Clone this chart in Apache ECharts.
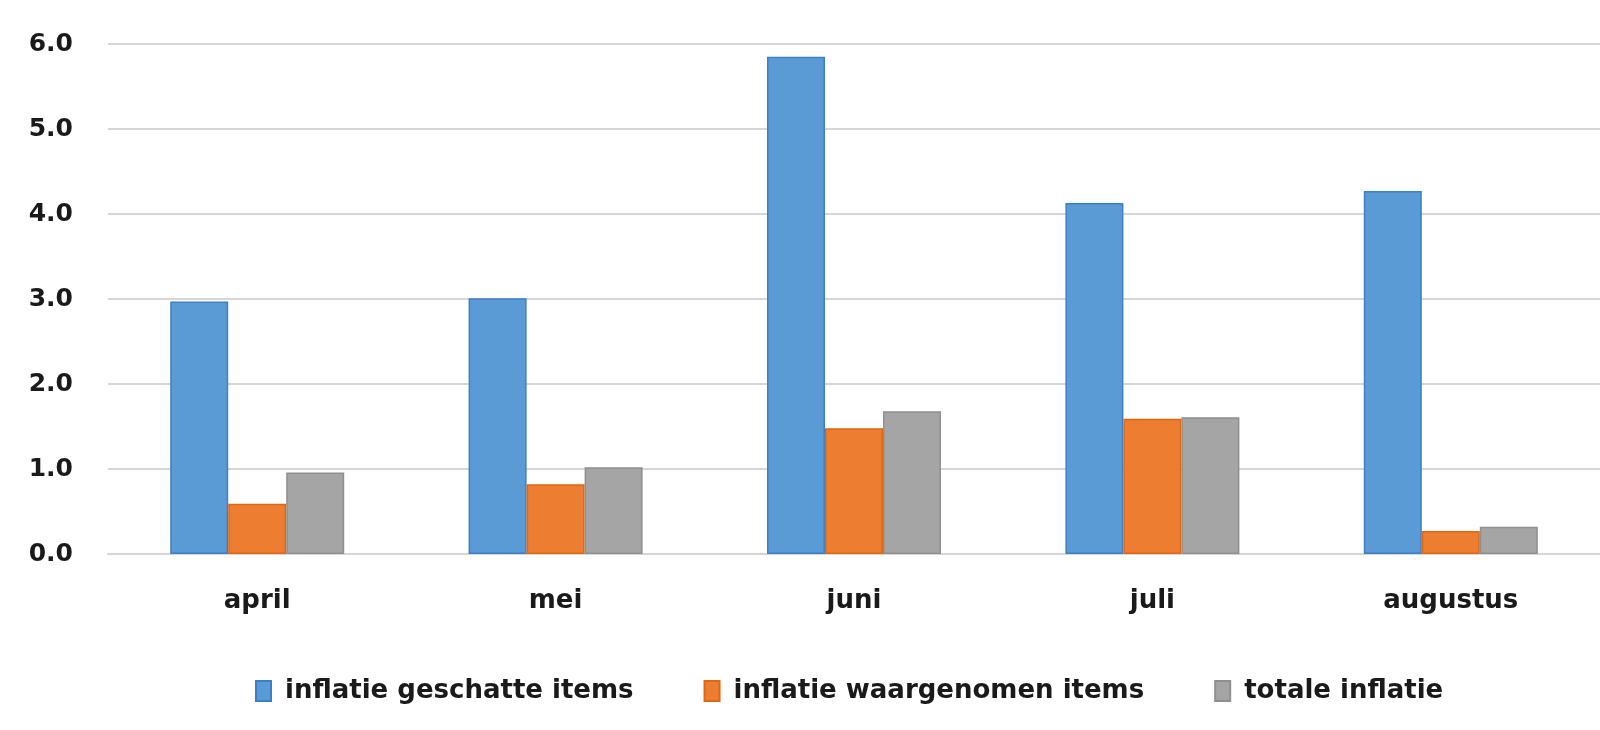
<!DOCTYPE html>
<html>
<head>
<meta charset="utf-8">
<script src="https://cdn.jsdelivr.net/npm/echarts@6/dist/echarts.min.js"></script>
<style>
html,body{margin:0;padding:0;background:#fff;}
#chart{width:1600px;height:730px;}
</style>
</head>
<body>
<div id="chart"></div>
<script>
const categories = ['april', 'mei', 'juni', 'juli', 'augustus'];
const seriesNames = ['inflatie geschatte items', 'inflatie waargenomen items', 'totale inflatie'];
const geschatte = [2.97, 3.01, 5.85, 4.13, 4.27];
const waargenomen = [0.59, 0.82, 1.48, 1.59, 0.27];
const totale = [0.96, 1.02, 1.68, 1.61, 0.32];
const yTicks = ['0.0', '1.0', '2.0', '3.0', '4.0', '5.0', '6.0'];

const colors = ['#5B9BD5', '#ED7D31', '#A5A5A5'];
const borders = ['#3d7fc4', '#e0660f', '#8f8f8f'];
const values = [geschatte, waargenomen, totale];

const chart = echarts.init(document.getElementById('chart'));
chart.setOption({
  animation: false,
  backgroundColor: '#ffffff',
  grid: { left: 108, top: 44, width: 1531, height: 510, containLabel: false },
  legend: {
    left: 250, top: 673,
    itemWidth: 15, itemHeight: 20, itemGap: 70,
    icon: 'rect',
    textStyle: { fontFamily: 'DejaVu Sans', fontWeight: 'bold', fontSize: 26, color: '#1a1a1a', padding: [0, 0, 0, 9] },
    data: seriesNames
  },
  xAxis: {
    type: 'category',
    data: categories,
    axisLine: { show: true, lineStyle: { color: '#d6d6d6', width: 2 } },
    axisTick: { show: false },
    axisLabel: { margin: 34, fontFamily: 'DejaVu Sans', fontWeight: 'bold', fontSize: 26, color: '#1a1a1a' }
  },
  yAxis: {
    type: 'value',
    min: 0, max: 6, interval: 1,
    axisLine: { show: false },
    axisTick: { show: false },
    splitLine: { lineStyle: { color: '#d6d6d6', width: 2 } },
    axisLabel: {
      margin: 35, fontFamily: 'DejaVu Sans', fontWeight: 'bold', fontSize: 25, color: '#1a1a1a',
      formatter: function (v) { return yTicks[Math.round(v)]; }
    }
  },
  series: values.map(function (d, i) {
    return {
      name: seriesNames[i],
      type: 'bar',
      data: d,
      barWidth: 58,
      barGap: '0%',
      itemStyle: { color: colors[i], borderColor: borders[i], borderWidth: 1.5 }
    };
  })
});
</script>
</body>
</html>
